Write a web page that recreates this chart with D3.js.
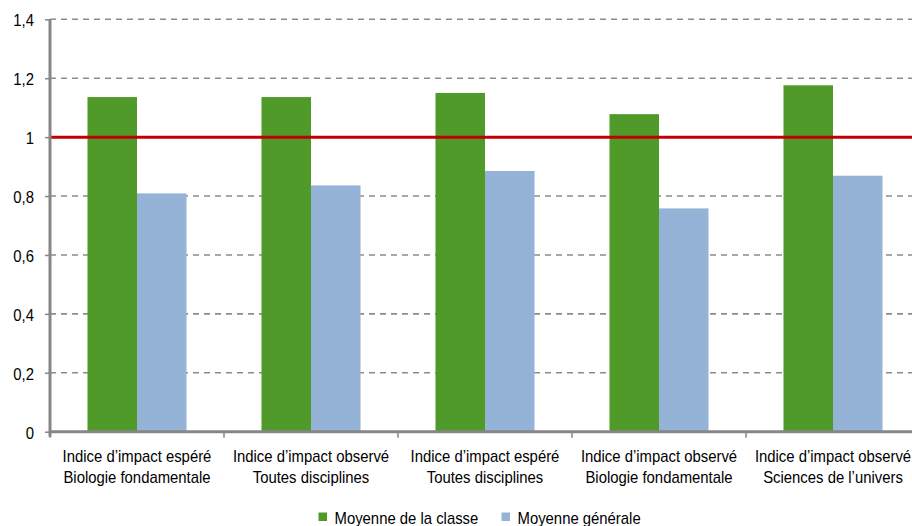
<!DOCTYPE html>
<html>
<head>
<meta charset="utf-8">
<script src="https://cdn.jsdelivr.net/npm/d3@7"></script>
<style>
  html, body { margin: 0; padding: 0; background: #fff; overflow: hidden; }
  svg { display: block; }
  text { font-family: "Liberation Sans", Arial, sans-serif; fill: #000; }
</style>
</head>
<body>
<svg id="chart" width="912" height="526"></svg>
<script>
// Category labels (two lines each)
const categoryLine1 = [
  "Indice d’impact espéré",
  "Indice d’impact observé",
  "Indice d’impact espéré",
  "Indice d’impact observé",
  "Indice d’impact observé"
];
const categoryLine2 = [
  "Biologie fondamentale",
  "Toutes disciplines",
  "Toutes disciplines",
  "Biologie fondamentale",
  "Sciences de l’univers"
];
const seriesNames = ["Moyenne de la classe", "Moyenne générale"];
const classeValues = [1.136, 1.136, 1.150, 1.078, 1.176];
const generaleValues = [0.809, 0.836, 0.885, 0.758, 0.869];
const yTicks = [0, 0.2, 0.4, 0.6, 0.8, 1, 1.2, 1.4];
const referenceValue = 1;

const colors = { "Moyenne de la classe": "#4f9a28", "Moyenne générale": "#95b3d7" };

const svg = d3.select("#chart");
const plotLeft = 50, plotRight = 920, plotTop = 19.3, plotBottom = 431.7;
const FONT = 16, SQUEEZE = 0.93;   // condensed look for all labels

const cats = d3.range(categoryLine1.length);
const x0 = d3.scaleBand().domain(cats).range([plotLeft, plotRight]).padding(0);
const x1 = d3.scaleBand().domain(seriesNames)
  .range([0, x0.bandwidth()]).paddingInner(0).paddingOuter(0.757);
const y = d3.scaleLinear().domain([0, 1.4]).range([plotBottom, plotTop]);

const fmt = v => d3.format("~g")(v).replace(".", ",");

// Horizontal dashed gridlines
svg.append("g").selectAll("line")
  .data(yTicks.filter(t => t > 0))
  .join("line")
  .attr("x1", plotLeft).attr("x2", 912)
  .attr("y1", d => y(d)).attr("y2", d => y(d))
  .attr("stroke", "#8c8c8c").attr("stroke-width", 1.6)
  .attr("stroke-dasharray", "6,5");

// Bars
const rows = cats.map(i => ({ i, vals: [classeValues[i], generaleValues[i]] }));
const groups = svg.append("g").selectAll("g")
  .data(rows).join("g")
  .attr("transform", d => `translate(${x0(d.i)},0)`);
groups.selectAll("rect")
  .data(d => seriesNames.map((s, k) => ({ s, v: d.vals[k] })))
  .join("rect")
  .attr("x", d => x1(d.s))
  .attr("width", x1.bandwidth())
  .attr("y", d => y(d.v))
  .attr("height", d => y(0) - y(d.v))
  .attr("fill", d => colors[d.s]);

// Reference line at 1
svg.append("line")
  .attr("x1", plotLeft).attr("x2", 912)
  .attr("y1", y(referenceValue)).attr("y2", y(referenceValue))
  .attr("stroke", "#c00000").attr("stroke-width", 3);

// Y axis (ticks from d3, labels drawn condensed)
const yAxis = d3.axisLeft(y).tickValues(yTicks).tickFormat("").tickSize(5);
const gy = svg.append("g").attr("transform", `translate(${plotLeft},0)`).call(yAxis);
gy.select(".domain").attr("stroke", "#868686").attr("stroke-width", 3)
  .attr("d", `M0,${plotBottom + 5}V${plotTop}`);
gy.selectAll(".tick line").attr("stroke", "#868686").attr("stroke-width", 1.5);
svg.append("g").selectAll("text")
  .data(yTicks).join("text")
  .attr("transform", d => `translate(34,${y(d) + 7}) scale(${SQUEEZE},1)`)
  .attr("text-anchor", "end")
  .attr("font-size", FONT)
  .text(fmt);

// X axis with ticks at category boundaries
svg.append("line")
  .attr("x1", plotLeft).attr("x2", 912)
  .attr("y1", plotBottom).attr("y2", plotBottom)
  .attr("stroke", "#868686").attr("stroke-width", 3);
const bounds = cats.map(i => x0(i)).concat([plotRight]);
svg.append("g").selectAll("line")
  .data(bounds).join("line")
  .attr("x1", d => d).attr("x2", d => d)
  .attr("y1", plotBottom).attr("y2", plotBottom + 6)
  .attr("stroke", "#868686").attr("stroke-width", 1.5);

// Category labels
const lab = svg.append("g").selectAll("text")
  .data(cats).join("text")
  .attr("text-anchor", "middle")
  .attr("font-size", FONT)
  .attr("transform", i => `translate(${x0(i) + x0.bandwidth() / 2},0) scale(${SQUEEZE},1)`);
lab.append("tspan").attr("x", 0).attr("y", 462.5).text(i => categoryLine1[i]);
lab.append("tspan").attr("x", 0).attr("y", 483).text(i => categoryLine2[i]);

// Legend
const legendX = [318.5, 501.5];
const leg = svg.append("g").selectAll("g")
  .data(seriesNames).join("g")
  .attr("transform", (d, k) => `translate(${legendX[k]},512.5)`);
leg.append("rect").attr("width", 8.5).attr("height", 8.5).attr("fill", d => colors[d]);
leg.append("text")
  .attr("transform", `translate(16,11.5) scale(${SQUEEZE},1)`)
  .attr("font-size", FONT).text(d => d);
</script>
</body>
</html>
